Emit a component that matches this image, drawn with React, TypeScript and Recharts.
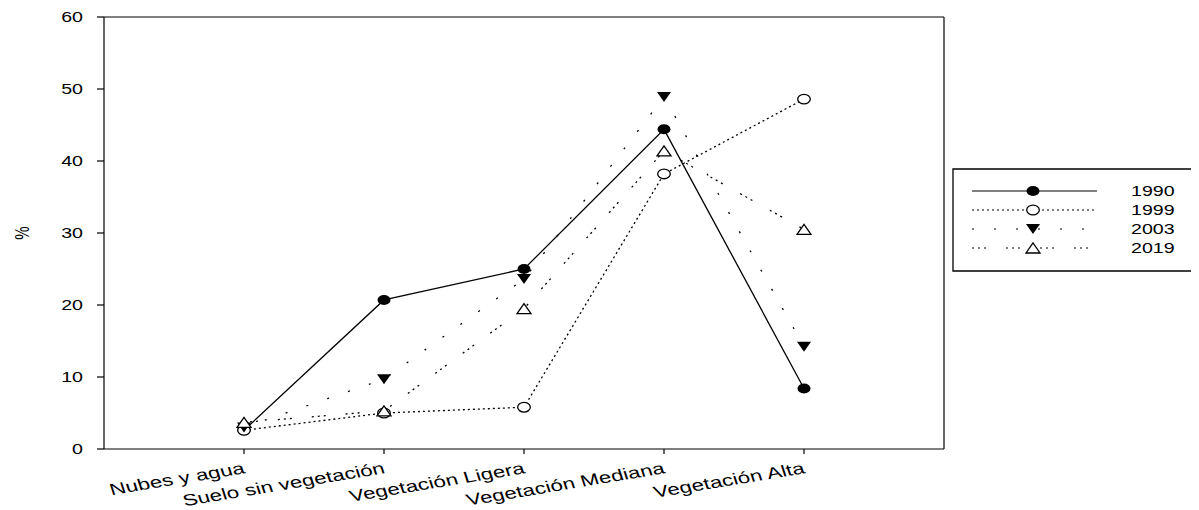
import { LineChart, Line, XAxis, YAxis, ReferenceLine, Legend, Label } from 'recharts';

const categories = ['Nubes y agua', 'Suelo sin vegetación', 'Vegetación Ligera', 'Vegetación Mediana', 'Vegetación Alta'];
const positions = [1, 2, 3, 4, 5];
const s1990 = [2.6, 20.7, 25.0, 44.4, 8.4];
const s1999 = [2.6, 5.0, 5.8, 38.2, 48.6];
const s2003 = [3.0, 9.7, 23.6, 48.9, 14.2];
const s2019 = [3.7, 5.3, 19.5, 41.4, 30.5];
const yTicks = [0, 10, 20, 30, 40, 50, 60];

const chartData = positions.map((pos, i) => ({
  pos,
  name: categories[i],
  y1990: s1990[i],
  y1999: s1999[i],
  y2003: s2003[i],
  y2019: s2019[i],
}));

const FONT = '"Liberation Sans", Arial, sans-serif';
const STRETCH = 1.4;

type Kind = 'filledCircle' | 'openCircle' | 'triDown' | 'triUp';

const seriesStyle = [
  { key: 'y1990', label: '1990', dash: undefined as string | undefined, kind: 'filledCircle' as Kind },
  { key: 'y1999', label: '1999', dash: '2 3', kind: 'openCircle' as Kind },
  { key: 'y2003', label: '2003', dash: '2 20', kind: 'triDown' as Kind },
  { key: 'y2019', label: '2019', dash: '2 4 2 4 2 20', kind: 'triUp' as Kind },
];

function Marker({ cx, cy, kind }: { cx: number; cy: number; kind: Kind }) {
  if (cx == null || cy == null) return null;
  if (kind === 'filledCircle') return <ellipse cx={cx} cy={cy} rx={6.5} ry={5} fill="#000" />;
  if (kind === 'openCircle')
    return <ellipse cx={cx} cy={cy} rx={6.3} ry={4.8} fill="#fff" stroke="#000" strokeWidth={1.3} />;
  if (kind === 'triDown')
    return <polygon points={`${cx - 7},${cy - 5} ${cx + 7},${cy - 5} ${cx},${cy + 5}`} fill="#000" />;
  return (
    <polygon
      points={`${cx - 7},${cy + 5} ${cx + 7},${cy + 5} ${cx},${cy - 5}`}
      fill="#fff"
      stroke="#000"
      strokeWidth={1.3}
    />
  );
}

const YTick = (props: any) => {
  const { x, y, payload } = props;
  return (
    <g transform={`translate(${x},${y}) scale(${STRETCH},1)`}>
      <text x={0} y={0} dy="0.35em" textAnchor="end" fontSize={14} fontFamily={FONT} fill="#000">
        {payload.value}
      </text>
    </g>
  );
};

const XTick = (props: any) => {
  const { x, y, payload } = props;
  const idx = positions.indexOf(payload.value);
  return (
    <g transform={`translate(${x + 2},${y + 17}) scale(${STRETCH},1) rotate(-13)`}>
      <text x={0} y={0} textAnchor="end" fontSize={16} fontFamily={FONT} fill="#000">
        {categories[idx]}
      </text>
    </g>
  );
};

const LegendBox = () => (
  <svg width={239} height={104} style={{ display: 'block' }}>
    <polyline points="239,1 1,1 1,103 239,103" fill="none" stroke="#000" strokeWidth={1.3} />
    {seriesStyle.map((s, i) => {
      const y = 23 + i * 19;
      return (
        <g key={s.key}>
          <line x1={20} x2={145} y1={y} y2={y} stroke="#000" strokeWidth={1.2} strokeDasharray={s.dash} />
          <Marker cx={81} cy={y} kind={s.kind} />
          <g transform={`translate(179,${y + 5}) scale(${STRETCH},1)`}>
            <text x={0} y={0} fontSize={14} fontFamily={FONT} fill="#000">
              {s.label}
            </text>
          </g>
        </g>
      );
    })}
  </svg>
);

export default function App() {
  return (
    <LineChart width={1183} height={502} data={chartData} margin={{ top: 9, right: 247, left: 0, bottom: 0 }}>
      <XAxis
        dataKey="pos"
        type="number"
        domain={[0, 6]}
        ticks={positions}
        height={61}
        tickSize={5}
        tick={<XTick />}
        stroke="#000"
        strokeWidth={1.2}
        interval={0}
      />
      <YAxis
        type="number"
        domain={[0, 60]}
        ticks={yTicks}
        width={96}
        tickSize={7}
        tickMargin={14}
        tick={<YTick />}
        stroke="#000"
        strokeWidth={1.2}
        interval={0}
      >
        <Label
          content={() => (
            <g transform={`translate(14,225) scale(${STRETCH},1) rotate(-90)`}>
              <text x={0} y={0} dy="0.35em" textAnchor="middle" fontSize={15} fontFamily={FONT} fill="#000">
                %
              </text>
            </g>
          )}
        />
      </YAxis>
      <ReferenceLine y={60} stroke="#000" strokeWidth={1.2} />
      <ReferenceLine x={6} stroke="#000" strokeWidth={1.2} />
      {seriesStyle.map((s) => (
        <Line
          key={s.key}
          type="linear"
          dataKey={s.key}
          name={s.label}
          stroke="#000"
          strokeWidth={1.3}
          strokeDasharray={s.dash}
          isAnimationActive={false}
          dot={(p: any) => <Marker key={`${s.key}-${p.index}`} cx={p.cx} cy={p.cy} kind={s.kind} />}
          activeDot={false}
        />
      ))}
      <Legend
        layout="vertical"
        align="center"
        verticalAlign="middle"
        content={() => <LegendBox />}
        wrapperStyle={{ position: 'absolute', left: 944, top: 160, width: 239, height: 104 }}
      />
    </LineChart>
  );
}
